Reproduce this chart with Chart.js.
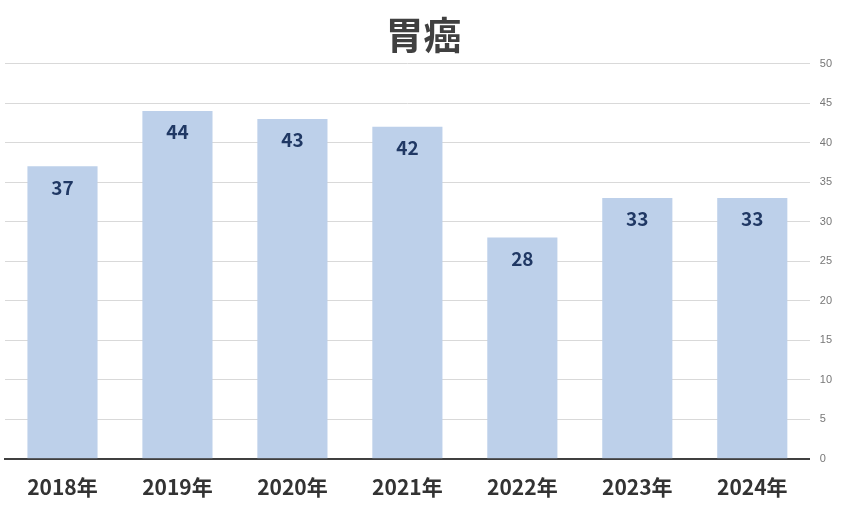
<!DOCTYPE html>
<html><head><meta charset="utf-8">
<script src="https://cdn.jsdelivr.net/npm/chart.js@4"></script>
<style>body{margin:0;background:#fff}#w{width:842px;height:526px}</style>
</head><body><div id="w"><canvas id="c"></canvas></div>
<script>
const categories=["2018年","2019年","2020年","2021年","2022年","2023年","2024年"];
const values=[37,44,43,42,28,33,33];
const labelPlugin={id:'lbl',afterDatasetsDraw(ch){const ctx=ch.ctx;const m=ch.getDatasetMeta(0);ctx.save();ctx.font='bold 19px "Noto Sans CJK JP", "Liberation Sans", sans-serif';ctx.fillStyle='#203864';ctx.textAlign='center';ctx.textBaseline='middle';m.data.forEach((b,i)=>{ctx.fillText(values[i],b.x,b.y+21);});ctx.restore();}};
new Chart(document.getElementById('c'),{type:'bar',data:{labels:categories,datasets:[{data:values,backgroundColor:'#bdd0ea',barPercentage:0.61,categoryPercentage:1}]},
options:{responsive:true,maintainAspectRatio:false,animation:false,layout:{padding:{left:5,right:0,top:8,bottom:10}},
plugins:{legend:{display:false},tooltip:{enabled:false},title:{display:true,text:'胃癌',color:'#404040',font:{size:38,weight:'bold',family:'"Noto Sans CJK JP", sans-serif'},padding:{top:4,bottom:6}}},
scales:{x:{grid:{display:false,drawTicks:false},border:{color:'#404040',width:2},ticks:{color:'#333',padding:16,font:{size:21,weight:'bold',family:'"Noto Sans CJK JP", sans-serif'}}},
y:{position:'right',min:0,max:50,ticks:{stepSize:5,color:'#777',font:{size:11},padding:10},grid:{color:'#d9d9d9',drawTicks:false},border:{display:false}}}},plugins:[labelPlugin]});
</script></body></html>
